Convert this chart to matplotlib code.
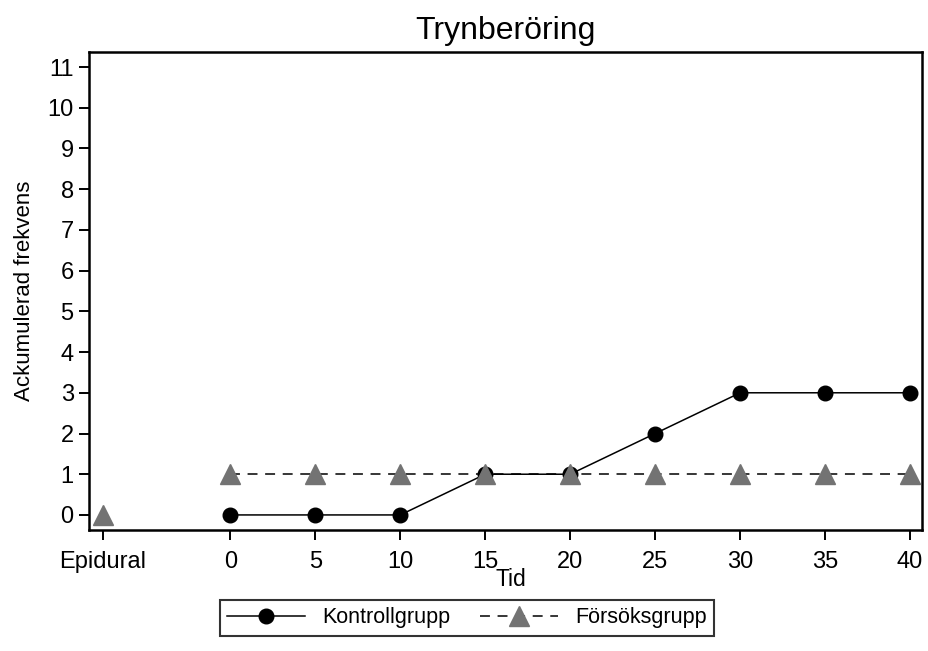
import matplotlib
matplotlib.use("Agg")
import matplotlib.pyplot as plt
from matplotlib.lines import Line2D

plt.rcParams['font.family'] = ['Liberation Sans', 'DejaVu Sans']

# data
epidural_pos = -7.5
times = [0, 5, 10, 15, 20, 25, 30, 35, 40]
kontroll = [0, 0, 0, 1, 1, 2, 3, 3, 3]
forsok = [1, 1, 1, 1, 1, 1, 1, 1, 1]
forsok_epidural = 0
xtick_labels = ['Epidural', '0', '5', '10', '15', '20', '25', '30', '35', '40']

fig = plt.figure(figsize=(9.29, 6.51), dpi=100)
ax = fig.add_axes([89 / 929, 1 - 530 / 651, (922 - 89) / 929, (530 - 52) / 651])

gray = '#737373'
dash = (0, (6.5, 5))
ax.plot(times, kontroll, color='black', linewidth=1.1, marker='o',
        markersize=10.5, zorder=3)
ax.plot(times, forsok, color='black', linewidth=1.1, linestyle=dash,
        zorder=2)
ax.plot(times, forsok, linestyle='none', marker='^', markersize=14,
        color=gray, zorder=4)
ax.plot([epidural_pos], [forsok_epidural], linestyle='none', marker='^',
        markersize=14, color=gray, zorder=4)

ax.set_xlim(-8.32, 40.7)
ax.set_ylim(-0.37, 11.37)
ax.set_xticks([epidural_pos] + times)
ax.set_xticklabels(xtick_labels)
ax.set_yticks(range(0, 12))

for s in ax.spines.values():
    s.set_linewidth(1.8)
ax.tick_params(axis='both', length=7, width=1.4, labelsize=17, pad=4)
ax.tick_params(axis='x', pad=8)

ax.set_title('Trynberöring', fontsize=23, pad=9)
ax.set_ylabel('Ackumulerad frekvens', fontsize=16, labelpad=9)
ax.set_xlabel('Tid', fontsize=16.5)
ax.xaxis.set_label_coords((511 - 89) / 833, (530 - 568) / 478)

handles = [
    Line2D([], [], color='black', linewidth=1.1, marker='o', markersize=10.5),
    Line2D([], [], color='black', linewidth=1.1, linestyle=dash,
           marker='^', markersize=14, markerfacecolor=gray,
           markeredgecolor=gray),
]
leg = fig.legend(handles, ['Kontrollgrupp', 'Försöksgrupp'], loc='center',
                 bbox_to_anchor=(467 / 929, 1 - 618 / 651), ncol=2,
                 frameon=True, fancybox=False, edgecolor='black',
                 fontsize=15.5, handlelength=3.6, handletextpad=0.8,
                 columnspacing=1.4, borderpad=0.35, borderaxespad=0)
leg.get_frame().set_linewidth(1.5)

fig.savefig('out.png', dpi=100)
